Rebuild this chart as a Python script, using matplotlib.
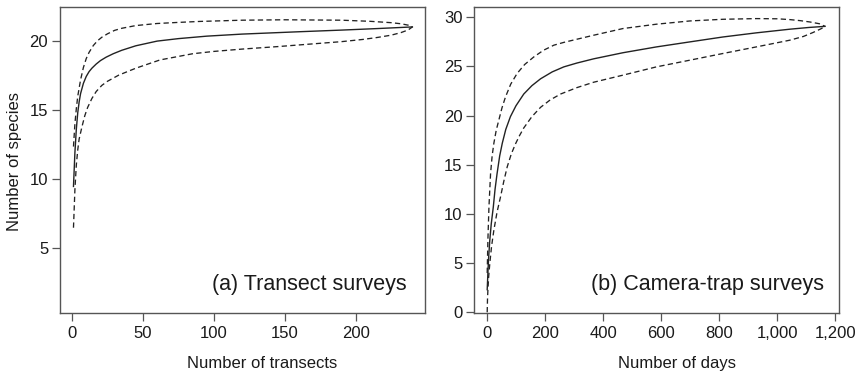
import matplotlib
matplotlib.use("Agg")
import matplotlib.pyplot as plt
from matplotlib.ticker import FuncFormatter

plt.rcParams['font.family'] = ['Liberation Sans', 'DejaVu Sans']

# (a) transect surveys: rarefaction curve with confidence limits
tr_mean_x = [1, 2, 3, 4, 5, 6, 8, 10, 12, 14, 17, 20, 24, 29, 35, 45, 60, 75,
             95, 120, 160, 190, 215, 240]
tr_mean_y = [9.45, 11.9, 13.6, 14.8, 15.6, 16.2, 16.95, 17.45, 17.8, 18.05,
             18.35, 18.6, 18.85, 19.1, 19.35, 19.68, 20.02, 20.2, 20.38, 20.53,
             20.7, 20.82, 20.93, 21.05]
tr_upper_x = [1, 2, 3, 4, 5, 6, 8, 10, 12, 15, 18, 21, 25, 30, 35, 45, 60, 75,
              90, 120, 150, 190, 210, 225, 232, 237, 240]
tr_upper_y = [12.35, 14.0, 15.1, 16.0, 16.6, 17.2, 18.1, 18.75, 19.2, 19.7,
              20.05, 20.3, 20.55, 20.8, 20.95, 21.15, 21.3, 21.38, 21.45, 21.54,
              21.57, 21.54, 21.46, 21.36, 21.28, 21.18, 21.05]
tr_lower_x = [1, 2, 3, 4, 5, 7, 9, 11, 14, 17, 21, 25, 33, 45, 62, 85, 100, 120,
              145, 165, 190, 205, 215, 225, 232, 237, 240]
tr_lower_y = [6.45, 9.2, 11.0, 12.1, 12.9, 13.8, 14.6, 15.2, 15.85, 16.35,
              16.8, 17.1, 17.55, 18.05, 18.65, 19.1, 19.27, 19.44, 19.62, 19.78,
              19.98, 20.14, 20.28, 20.45, 20.64, 20.83, 21.05]

# (b) camera-trap surveys
ct_mean_x = [1, 3.4, 6, 10, 15, 22, 28, 35, 44, 53, 65, 81, 100, 127, 155, 185,
             225, 265, 310, 368, 469, 584, 699, 813, 928, 1043, 1110, 1165]
ct_mean_y = [2.3, 4.0, 5.6, 7.35, 9.0, 10.7, 12.5, 14.1, 15.9, 17.2, 18.6, 19.9,
             21.0, 22.2, 23.05, 23.75, 24.45, 24.96, 25.35, 25.78, 26.4, 26.99,
             27.5, 28.0, 28.42, 28.79, 28.97, 29.08]
ct_upper_x = [1, 3.4, 7, 12.6, 18, 24, 32, 41, 52, 64, 82, 104, 130, 162, 195,
              231, 265, 300, 368, 469, 584, 699, 813, 928, 1000, 1043, 1080, 1112,
              1145, 1165]
ct_upper_y = [4.0, 7.35, 10.7, 14.1, 15.9, 17.2, 18.5, 19.54, 20.8, 21.9, 23.2,
              24.29, 25.2, 25.98, 26.65, 27.17, 27.45, 27.7, 28.18, 28.86, 29.3,
              29.63, 29.8, 29.87, 29.85, 29.77, 29.66, 29.53, 29.35, 29.08]
ct_lower_x = [1, 2, 3.4, 6, 10, 16, 24, 35, 47, 58, 70, 84, 98, 112, 127, 155,
              185, 218, 254, 310, 368, 469, 584, 699, 813, 928, 1043, 1090, 1123,
              1150, 1165]
ct_lower_y = [0, 1.3, 2.27, 3.6, 4.98, 6.7, 8.36, 10.2, 11.75, 13.3, 14.8, 16.1,
              17.1, 17.95, 18.75, 19.9, 20.85, 21.6, 22.2, 22.85, 23.4, 24.12,
              24.96, 25.64, 26.32, 26.99, 27.67, 28.05, 28.45, 28.82, 29.08]

tr_xticks = [0, 50, 100, 150, 200]
tr_yticks = [5, 10, 15, 20]
ct_xticks = [0, 200, 400, 600, 800, 1000, 1200]
ct_yticks = [0, 5, 10, 15, 20, 25, 30]

line_col = '#222222'
box_col = '#555555'
txt_col = '#1a1a1a'

fig = plt.figure(figsize=(8.56, 3.78), dpi=100)
ax1 = fig.add_axes([0.0701, 0.172, 0.4264, 0.8095])
ax2 = fig.add_axes([0.554, 0.172, 0.4257, 0.8095])


def style(ax):
    for s in ax.spines.values():
        s.set_color(box_col)
        s.set_linewidth(1.0)
    ax.tick_params(direction='out', length=6, width=0.9, color=box_col,
                   labelsize=12, labelcolor=txt_col)
    ax.tick_params(axis='x', pad=3.5)
    ax.tick_params(axis='y', pad=2.5)


def curves(ax, mx, my, ux, uy, lx, ly):
    ax.plot(mx, my, color=line_col, lw=1.0)
    ax.plot(ux, uy, color=line_col, lw=0.95, dashes=(4, 2.5))
    ax.plot(lx, ly, color=line_col, lw=0.95, dashes=(4, 2.5))


curves(ax1, tr_mean_x, tr_mean_y, tr_upper_x, tr_upper_y, tr_lower_x, tr_lower_y)
ax1.set_xlim(-8.5, 248.9)
ax1.set_ylim(0.25, 22.5)
ax1.set_xticks(tr_xticks)
ax1.set_yticks(tr_yticks)
style(ax1)
ax1.set_xlabel('Number of transects', fontsize=12, color=txt_col)
ax1.set_ylabel('Number of species', fontsize=12, color=txt_col)
ax1.xaxis.set_label_coords(0.553, -0.14)
ax1.yaxis.set_label_coords(-0.105, 0.494)
ax1.text(0.95, 0.0915, '(a) Transect surveys', transform=ax1.transAxes,
         ha='right', va='center', fontsize=15.5, color=txt_col)

curves(ax2, ct_mean_x, ct_mean_y, ct_upper_x, ct_upper_y, ct_lower_x, ct_lower_y)
ax2.set_xlim(-43.7, 1211.7)
ax2.set_ylim(-0.07, 31.05)
ax2.set_xticks(ct_xticks)
ax2.set_yticks(ct_yticks)
ax2.xaxis.set_major_formatter(FuncFormatter(lambda v, p: f'{int(v):,}'))
style(ax2)
ax2.set_xlabel('Number of days', fontsize=12, color=txt_col)
ax2.xaxis.set_label_coords(0.556, -0.14)
ax2.text(0.9605, 0.0915, '(b) Camera-trap surveys', transform=ax2.transAxes,
         ha='right', va='center', fontsize=15.5, color=txt_col)

fig.savefig('out.png', dpi=100)
